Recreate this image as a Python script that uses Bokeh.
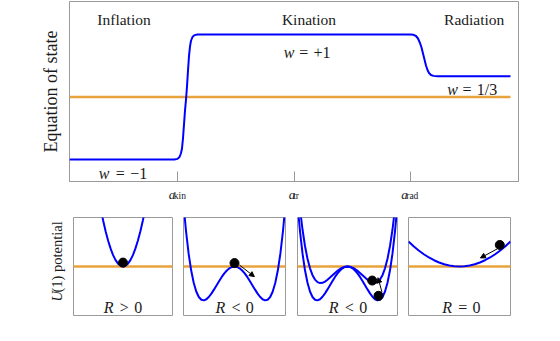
from bokeh.plotting import figure
from bokeh.layouts import column, row
from bokeh.models import Label, Arrow, NormalHead, FixedTicker, Range1d
from bokeh.embed import file_html
from bokeh.resources import INLINE

# ---------------- data ----------------
# equation of state w versus ln a (arbitrary units 0..100)
eos_x = [0.0, 23.39, 24.05, 24.50, 24.83, 25.06, 25.28, 25.50, 25.72, 25.95, 26.17,
         26.39, 26.61, 26.84, 27.06, 27.39, 27.84, 28.51, 29.18,
         75.95, 76.61, 77.17, 77.62, 78.06, 78.40, 78.73, 79.06, 79.40, 79.73,
         80.07, 80.51, 81.07, 81.96, 98.22]
eos_w = [-1.0, -1.0, -0.99, -0.96, -0.9, -0.82, -0.66, -0.44, -0.22, -0.04, 0.17,
         0.42, 0.65, 0.81, 0.9, 0.96, 0.99, 1.0, 1.0,
         1.0, 0.995, 0.976, 0.936, 0.864, 0.792, 0.696, 0.6, 0.504, 0.432,
         0.384, 0.352, 0.338, 0.333, 0.333]
zero_x = [0.0, 98.22]
zero_w = [0.0, 0.0]

tick_x = [24.12, 50.18, 75.95]
tick_sub = ["kin", "tr", "rad"]
tick_a_dx = [-9, -6, -9.3]
tick_sub_dx = [-4, -1.6, -4.3]

era_names = ["Inflation", "Kination", "Radiation"]
era_x = [12.14, 53.34, 90.13]
era_y = 1.24

w_rhs = ["=\u2004\u22121", "=\u2004+1", "=\u20041/3"]
w_left_x = [6.53, 47.73, 84.12]
w_rhs_x = [9.87, 50.71, 87.08]
w_label_y = [-1.229, 0.717, 0.115]

# U(1) potentials, field phi in (-1, 1)
pot1_phi = [-0.45, -0.4, -0.35, -0.3, -0.25, -0.2, -0.15, -0.1, -0.05, 0.0,
            0.05, 0.1, 0.15, 0.2, 0.25, 0.3, 0.35, 0.4, 0.45]
pot1_U = [1.18, 0.933, 0.714, 0.525, 0.364, 0.233, 0.131, 0.058, 0.015, 0.0,
          0.015, 0.058, 0.131, 0.233, 0.364, 0.525, 0.714, 0.933, 1.18]

well_phi = [0.0, 0.05, 0.1, 0.15, 0.2, 0.25, 0.3, 0.35, 0.4, 0.45, 0.5,
            0.55, 0.6, 0.65, 0.7, 0.75, 0.8, 0.85, 0.9, 0.95, 1.0]
deep_well_U = [0.0, -0.0093, -0.0367, -0.0812, -0.1408, -0.213, -0.2943, -0.3807,
               -0.4672, -0.5483, -0.6175, -0.6678, -0.6912, -0.6792, -0.6223,
               -0.5105, -0.3328, -0.0777, 0.2673, 0.7152, 1.28]
shallow_well_U = [0.0, -0.0058, -0.023, -0.0506, -0.0871, -0.1305, -0.1779, -0.226,
                  -0.271, -0.3082, -0.3325, -0.3382, -0.3188, -0.2675, -0.1766,
                  -0.038, 0.1572, 0.4183, 0.7552, 1.1788, 1.7]

flat_phi = [0.0, 0.1, 0.2, 0.3, 0.4, 0.5, 0.6, 0.7, 0.8, 0.9, 1.0]
flat_U = [0.0, 0.005, 0.02, 0.046, 0.082, 0.128, 0.184, 0.25, 0.326, 0.413, 0.51]

ball1 = ([0.0], [0.08])
ball2 = ([0.0], [0.07])
ball3 = ([0.494, 0.62], [-0.287, -0.598])
ball4 = ([0.79], [0.44])

arrow2 = (0.098, 0.03, 0.39, -0.208)
arrow3 = (0.69, -0.525, 0.61, -0.228)
arrow4 = (0.74, 0.36, 0.41, 0.174)

panel_rel = [">\u20040", "<\u20040", "<\u20040", "=\u20040"]
panel_R_left = [-0.388, -0.373, -0.374, -0.339]
panel_rel_left = [-0.065, -0.059, -0.054, -0.025]
panel_R_y = [-0.837, -0.842, -0.842, -0.842]


def mirror(xs, ys):
    return [-v for v in xs[::-1]] + xs[1:], ys[::-1] + ys[1:]


# ---------------- style ----------------
SERIF = "Liberation Serif"
GRAY = "#9a9a9a"
BLUE = "#0000ff"
ORANGE = "#e8a33d"
TXT = "#1a1a1a"


def txt(p, x, y, text, size, italic=False, align="left", angle=0.0, dx=0, baseline="alphabetic"):
    p.add_layout(Label(x=x, y=y, text=text, text_font=SERIF, text_font_size=size,
                       text_font_style="italic" if italic else "normal",
                       text_align=align, text_baseline=baseline, angle=angle,
                       x_offset=dx, text_color=TXT))


def bare(width, height, x_range, y_range, bl=0, br=0, bt=0, bb=0):
    f = figure(width=width, height=height, x_range=x_range, y_range=y_range,
               output_backend="svg", toolbar_location=None,
               x_axis_location=None, y_axis_location=None,
               min_border_left=bl, min_border_right=br, min_border_top=bt, min_border_bottom=bb)
    f.xgrid.visible = False
    f.ygrid.visible = False
    f.outline_line_color = None
    return f


# ---------------- top panel ----------------
top = figure(width=560, height=186, x_range=Range1d(0, 100), y_range=Range1d(-1.352, 1.528),
             output_backend="svg", toolbar_location=None,
             min_border_left=69, min_border_right=42, min_border_top=1, min_border_bottom=5)
top.xgrid.visible = False
top.ygrid.visible = False
top.outline_line_color = GRAY
top.outline_line_width = 1

ax = top.xaxis[0]
ax.ticker = FixedTicker(ticks=tick_x, minor_ticks=[])
ax.major_label_overrides = {t: "" for t in tick_x}
ax.major_label_standoff = 0
ax.major_tick_in = 10
ax.major_tick_out = 0
ax.minor_tick_in = 0
ax.minor_tick_out = 0
ax.axis_line_color = GRAY
ax.major_tick_line_color = GRAY

yax = top.yaxis[0]
yax.ticker = FixedTicker(ticks=[], minor_ticks=[])
yax.axis_line_color = None
yax.major_tick_line_color = None
yax.minor_tick_line_color = None
yax.major_label_standoff = 0
yax.axis_label = "Equation of state"
yax.axis_label_text_font = SERIF
yax.axis_label_text_font_size = "18px"
yax.axis_label_text_font_style = "normal"
yax.axis_label_text_color = TXT
yax.axis_label_standoff = 9

top.line(zero_x, zero_w, line_color=ORANGE, line_width=2.5)
top.line(eos_x, eos_w, line_color=BLUE, line_width=2, line_join="round")

for name, xx in zip(era_names, era_x):
    txt(top, xx, era_y, name, "15.5px", align="center")
for rhs, xl, xr, yy in zip(w_rhs, w_left_x, w_rhs_x, w_label_y):
    txt(top, xl, yy, "w", "16px", italic=True)
    txt(top, xr, yy, rhs, "16px", dx=2)

# tick labels a_kin, a_tr, a_rad in a strip sharing the x scale
ticks_fig = bare(560, 19, top.x_range, Range1d(0, 1), bl=69, br=42)
for tx, sub, da, ds in zip(tick_x, tick_sub, tick_a_dx, tick_sub_dx):
    txt(ticks_fig, tx, 0.605, "a", "13px", italic=True, dx=da)
    txt(ticks_fig, tx, 0.5, sub, "9.5px", dx=ds)


# ---------------- bottom panels ----------------
def panel(width, height, bl, br, bt, bb):
    f = bare(width, height, Range1d(-1, 1), Range1d(-1, 1), bl, br, bt, bb)
    f.outline_line_color = GRAY
    f.outline_line_width = 1
    f.line([-1.1, 1.1], [0, 0], line_color=ORANGE, line_width=2.5)
    return f


ulabel = bare(73, 120, Range1d(0, 1), Range1d(-1.204, 1.245))
f1 = panel(105, 120, 0, 6, 12, 10)
f2 = panel(113, 120, 5, 6, 10, 9)
f3 = panel(111, 120, 6, 5, 10, 9)
f4 = panel(112, 120, 6, 4, 10, 9)

f1.line(pot1_phi, pot1_U, line_color=BLUE, line_width=2)
x2, y2 = mirror(well_phi, deep_well_U)
f2.line(x2, y2, line_color=BLUE, line_width=2)
f3.line(x2, y2, line_color=BLUE, line_width=2)
x3, y3 = mirror(well_phi, shallow_well_U)
f3.line(x3, y3, line_color=BLUE, line_width=2)
x4, y4 = mirror(flat_phi, flat_U)
f4.line(x4, y4, line_color=BLUE, line_width=2)

for f, b in zip([f1, f2, f3, f4], [ball1, ball2, ball3, ball4]):
    f.scatter(b[0], b[1], size=9, color="black")

for f, a in zip([f2, f3, f4], [arrow2, arrow3, arrow4]):
    f.add_layout(Arrow(end=NormalHead(size=5, fill_color="black", line_color="black"),
                       x_start=a[0], y_start=a[1], x_end=a[2], y_end=a[3],
                       line_width=1, line_color="black"))

for f, rel, xl, xr, yy in zip([f1, f2, f3, f4], panel_rel, panel_R_left, panel_rel_left, panel_R_y):
    txt(f, xl, yy, "R", "16px", italic=True)
    txt(f, xr, yy, rel, "16px")

txt(ulabel, 0.78, -0.857, "U", "14.5px", italic=True, angle=1.5708)
txt(ulabel, 0.78, -0.63, "(1) potential", "14.5px", angle=1.5708)

root = column(top, ticks_fig, row(ulabel, f1, f2, f3, f4))
open("out.html", "w").write(file_html(root, INLINE))
